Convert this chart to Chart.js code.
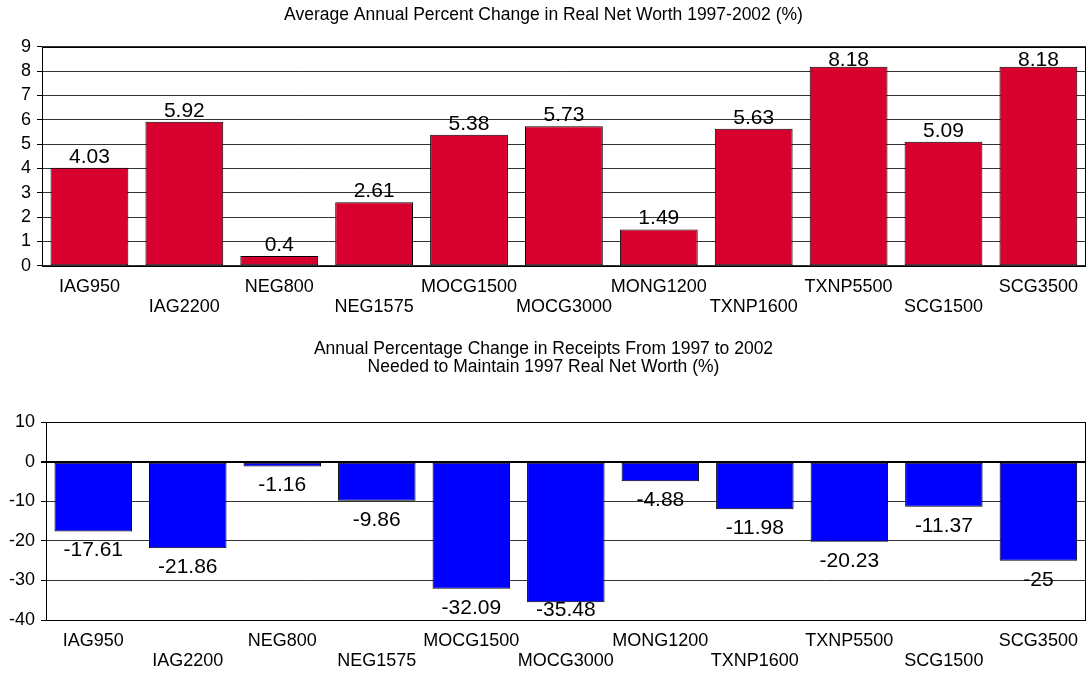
<!DOCTYPE html>
<html>
<head>
<meta charset="utf-8">
<script src="https://cdn.jsdelivr.net/npm/chart.js@4.4.1/dist/chart.umd.min.js"></script>
<style>
  html, body { margin: 0; padding: 0; background: #fff; }
  body { width: 1089px; height: 677px; position: relative; overflow: hidden; }
  .box { position: absolute; left: 0; width: 1089px; }
  #top { top: 0; height: 330px; }
  #bottom { top: 330px; height: 347px; }
</style>
</head>
<body>
<div class="box" id="top"><canvas id="netWorth"></canvas></div>
<div class="box" id="bottom"><canvas id="receipts"></canvas></div>
<script>
// Farm categories shared by both panels
const categories = ['IAG950', 'IAG2200', 'NEG800', 'NEG1575', 'MOCG1500', 'MOCG3000',
                    'MONG1200', 'TXNP1600', 'TXNP5500', 'SCG1500', 'SCG3500'];

// Average annual percent change in real net worth, 1997-2002
const netWorthChange = [4.03, 5.92, 0.4, 2.61, 5.38, 5.73, 1.49, 5.63, 8.18, 5.09, 8.18];

// Annual percentage change in receipts needed to maintain 1997 real net worth
const receiptsChange = [-17.61, -21.86, -1.16, -9.86, -32.09, -35.48, -4.88, -11.98, -20.23, -11.37, -25];

const netWorthTitle = 'Average Annual Percent Change in Real Net Worth 1997-2002 (%)';
const receiptsTitle = ['Annual Percentage Change in Receipts From 1997 to 2002',
                       'Needed to Maintain 1997 Real Net Worth (%)'];

const FONT = '"Liberation Sans", Arial, Helvetica, sans-serif';
Chart.defaults.font.family = FONT;
Chart.defaults.color = '#000';

// Black frame around the plotting area
const framePlugin = {
  id: 'frame',
  afterDatasetsDraw(chart) {
    const { ctx, chartArea: a } = chart;
    ctx.save();
    ctx.strokeStyle = '#000';
    ctx.lineWidth = 1;
    ctx.strokeRect(Math.round(a.left) + 0.5, Math.round(a.top) + 0.5,
                   Math.round(a.right - a.left) - 1, Math.round(a.bottom - a.top));
    ctx.restore();
  }
};

// Value printed above positive bars and below negative bars,
// kept inside the plotting area when a bar comes close to its edge
const LABEL_SIZE = 21;
const valueLabelPlugin = {
  id: 'valueLabels',
  afterDraw(chart) {
    const { ctx, chartArea: a } = chart;
    const ds = chart.data.datasets[0];
    const meta = chart.getDatasetMeta(0);
    const ascent = LABEL_SIZE * 0.905;
    const descent = LABEL_SIZE * 0.212;
    ctx.save();
    ctx.font = LABEL_SIZE + 'px ' + FONT;
    ctx.fillStyle = '#000';
    ctx.textAlign = 'center';
    ctx.textBaseline = 'alphabetic';
    meta.data.forEach((bar, i) => {
      const v = ds.data[i];
      const y = v >= 0
        ? Math.max(bar.y - 5, a.top + ascent)
        : Math.min(bar.y + 25, a.bottom - descent);
      ctx.fillText(String(v), bar.x, y);
    });
    ctx.restore();
  }
};

function staggered(value, index) {
  const name = categories[index];
  return index % 2 === 0 ? [name, ''] : ['', name];
}

function makeChart(canvasId, values, color, title, opts) {
  return new Chart(document.getElementById(canvasId), {
    type: 'bar',
    data: {
      labels: categories,
      datasets: [{
        data: values,
        backgroundColor: color,
        borderColor: '#000',
        borderWidth: 1,
        borderSkipped: false,
        categoryPercentage: 1,
        barPercentage: 0.82
      }]
    },
    options: {
      responsive: true,
      maintainAspectRatio: false,
      animation: false,
      layout: { padding: { left: 0, right: 2, top: 0, bottom: 0 } },
      plugins: {
        legend: { display: false },
        tooltip: { enabled: false },
        title: {
          display: true,
          text: title,
          color: '#000',
          font: { size: 17.5, weight: 'normal', lineHeight: opts.titleLine },
          padding: opts.titlePad
        }
      },
      scales: {
        x: {
          grid: { display: false, drawTicks: false },
          border: { display: false },
          ticks: {
            autoSkip: false,
            maxRotation: 0,
            padding: 11,
            font: { size: 18, lineHeight: '20px' },
            callback: staggered
          },
          afterFit(scale) { scale.height = opts.xHeight; }
        },
        y: {
          min: opts.min,
          max: opts.max,
          grid: {
            color: ctx => (ctx.tick && ctx.tick.value === 0 && opts.min < 0) ? '#000' : '#333',
            lineWidth: ctx => (ctx.tick && ctx.tick.value === 0 && opts.min < 0) ? 2 : 1,
            tickColor: '#000',
            tickLength: 5
          },
          border: { display: false },
          ticks: {
            autoSkip: false,
            stepSize: opts.step,
            padding: 6,
            font: { size: 18 }
          },
          afterFit(scale) { scale.width = opts.yWidth; }
        }
      }
    },
    plugins: [framePlugin, valueLabelPlugin]
  });
}

makeChart('netWorth', netWorthChange, '#D7002F', netWorthTitle, {
  min: 0, max: 9, step: 1,
  yWidth: 42, xHeight: 64.3,
  titleLine: '21px', titlePad: { top: 5, bottom: 20.7 }
});

makeChart('receipts', receiptsChange, '#0000FF', receiptsTitle, {
  min: -40, max: 10, step: 10,
  yWidth: 46, xHeight: 57,
  titleLine: '18px', titlePad: { top: 10, bottom: 46.3 }
});
</script>
</body>
</html>
